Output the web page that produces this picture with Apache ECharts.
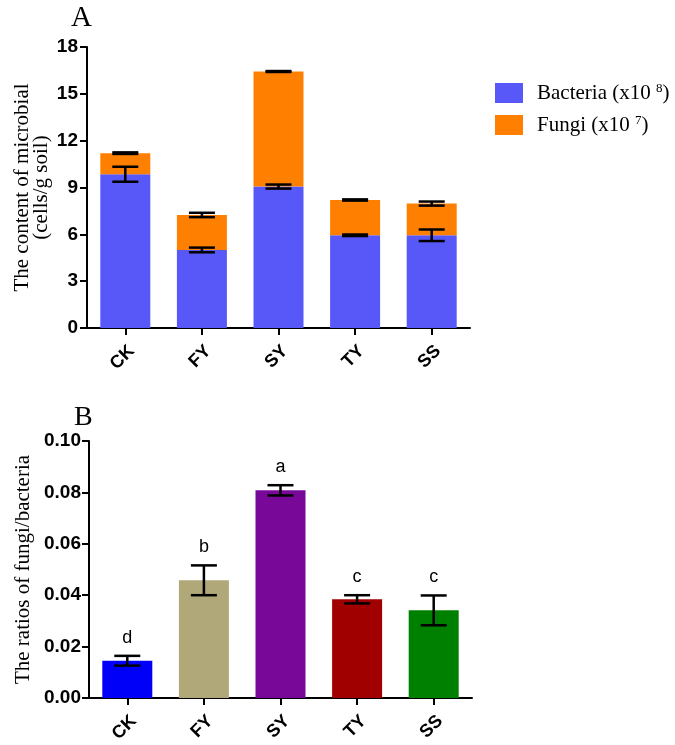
<!DOCTYPE html>
<html>
<head>
<meta charset="utf-8">
<script src="https://cdn.jsdelivr.net/npm/echarts@6/dist/echarts.min.js"></script>
<style>html,body{margin:0;padding:0;background:#fff}#c{width:675px;height:745px}</style>
</head>
<body>
<div id="c"></div>
<script>
// ---- data ----
const categories = ['CK', 'FY', 'SY', 'TY', 'SS'];
const bacteria = [9.85, 5.0, 9.06, 5.94, 5.94];        // x10^8
const bacteriaSE = [0.48, 0.15, 0.13, 0.05, 0.37];
const fungi = [1.35, 2.24, 7.37, 2.26, 2.03];          // x10^7 (stacked)
const fungiSE = [0.05, 0.14, 0.03, 0.04, 0.13];
const ratio = [0.0145, 0.0458, 0.0808, 0.0384, 0.0341];
const ratioSE = [0.0019, 0.0058, 0.0020, 0.0016, 0.0058];
const letters = ['d', 'b', 'a', 'c', 'c'];
const topTicks = [0, 3, 6, 9, 12, 15, 18];
const bottomTicks = ['0.00', '0.02', '0.04', '0.06', '0.08', '0.10'];

// ---- styles ----
const SERIF = 'Liberation Serif, Times New Roman, serif';
const SANS = 'Liberation Sans, Arial, sans-serif';
const ratioColors = ['#0000F8', '#B0A878', '#780898', '#A00000', '#008000'];
const CAP = 13;

const chart = echarts.init(document.getElementById('c'), null, {renderer: 'canvas'});

function errRender(params, api) {
  const i = api.value(0), c = api.value(1), se = api.value(2);
  const top = api.coord([i, c + se]);
  const bot = api.coord([i, c - se]);
  const st = {stroke: '#000', lineWidth: 2.5};
  return {
    type: 'group',
    children: [
      {type: 'line', shape: {x1: top[0], y1: top[1], x2: bot[0], y2: bot[1]}, style: st},
      {type: 'line', shape: {x1: top[0] - CAP, y1: top[1], x2: top[0] + CAP, y2: top[1]}, style: st},
      {type: 'line', shape: {x1: bot[0] - CAP, y1: bot[1], x2: bot[0] + CAP, y2: bot[1]}, style: st}
    ]
  };
}

function letterRender(params, api) {
  const i = api.value(0), c = api.value(1), se = api.value(2);
  const p = api.coord([i, c + se]);
  return {
    type: 'text',
    x: p[0], y: p[1] - 18,
    style: {text: letters[params.dataIndex], fill: '#000', font: '18px ' + SANS, align: 'center', verticalAlign: 'middle'}
  };
}

const axisLineStyle = {show: true, lineStyle: {color: '#000', width: 2}};
const tickStyle = {show: true, length: 7, lineStyle: {color: '#000', width: 2}};

const option = {
  animation: false,
  backgroundColor: '#fff',
  title: [
    {text: 'A', left: 71, top: 4, padding: 0, textStyle: {fontFamily: SERIF, fontSize: 29, fontWeight: 'normal', color: '#000'}},
    {text: 'B', left: 74, top: 404, padding: 0, textStyle: {fontFamily: SERIF, fontSize: 28, fontWeight: 'normal', color: '#000'}}
  ],
  legend: {
    data: ['Bacteria', 'Fungi'],
    orient: 'vertical',
    left: 495, top: 82,
    padding: 0,
    itemWidth: 28, itemHeight: 20, itemGap: 10,
    icon: 'rect',
    formatter: function (name) {
      return name === 'Bacteria' ? '{g|}{t|Bacteria (x10 }{s|8}{t|)}' : '{g|}{t|Fungi (x10 }{s|7}{t|)}';
    },
    textStyle: {
      rich: {
        g: {width: 9},
        t: {fontFamily: SERIF, fontSize: 21, color: '#000', lineHeight: 22, verticalAlign: 'bottom'},
        s: {fontFamily: SERIF, fontSize: 13, color: '#000', lineHeight: 22, verticalAlign: 'top'}
      }
    }
  },
  grid: [
    {left: 87, top: 47, width: 383, height: 281, outerBoundsMode: 'none'},
    {left: 89, top: 441, width: 383, height: 257, outerBoundsMode: 'none'}
  ],
  xAxis: [0, 1].map(g => ({
    type: 'category', gridIndex: g, data: categories,
    axisLine: axisLineStyle,
    axisTick: Object.assign({alignWithLabel: true}, tickStyle),
    axisLabel: {rotate: 45, margin: 14, verticalAlign: 'top', fontFamily: SANS, fontWeight: 'bold', fontSize: 18, color: '#000'},
    splitLine: {show: false}
  })),
  yAxis: [
    {
      type: 'value', gridIndex: 0, min: topTicks[0], max: topTicks[topTicks.length - 1], interval: topTicks[1] - topTicks[0],
      axisLine: axisLineStyle, axisTick: tickStyle, splitLine: {show: false},
      axisLabel: {margin: 9, fontFamily: SANS, fontWeight: 'bold', fontSize: 19, color: '#000'},
      name: 'The content of microbial\n(cells/g soil)', nameLocation: 'middle', nameRotate: 90, nameGap: 36,
      nameMoveOverlap: false,
      nameTextStyle: {fontFamily: SERIF, fontSize: 21, lineHeight: 19, color: '#000'}
    },
    {
      type: 'value', gridIndex: 1, min: 0, max: 0.1, interval: 0.02,
      axisLine: axisLineStyle, axisTick: tickStyle, splitLine: {show: false},
      axisLabel: {margin: 8, fontFamily: SANS, fontWeight: 'bold', fontSize: 19, color: '#000',
        formatter: (v) => bottomTicks[Math.round(v / 0.02)]},
      name: 'The ratios of fungi/bacteria', nameLocation: 'middle', nameRotate: 90, nameGap: 55,
      nameMoveOverlap: false,
      nameTextStyle: {fontFamily: SERIF, fontSize: 21, color: '#000'}
    }
  ],
  series: [
    {name: 'Bacteria', type: 'bar', stack: 'a', xAxisIndex: 0, yAxisIndex: 0, barWidth: 50,
      itemStyle: {color: '#5858F8'}, data: bacteria},
    {name: 'Fungi', type: 'bar', stack: 'a', xAxisIndex: 0, yAxisIndex: 0, barWidth: 50,
      itemStyle: {color: '#FF8000'}, data: fungi},
    {type: 'custom', xAxisIndex: 0, yAxisIndex: 0, z: 5, renderItem: errRender, encode: {x: 0, y: 1},
      data: categories.map((c, i) => [i, bacteria[i], bacteriaSE[i]])},
    {type: 'custom', xAxisIndex: 0, yAxisIndex: 0, z: 5, renderItem: errRender, encode: {x: 0, y: 1},
      data: categories.map((c, i) => [i, bacteria[i] + fungi[i], fungiSE[i]])},
    {name: 'Ratio', type: 'bar', xAxisIndex: 1, yAxisIndex: 1, barWidth: 50,
      data: ratio.map((v, i) => ({value: v, itemStyle: {color: ratioColors[i]}}))},
    {type: 'custom', xAxisIndex: 1, yAxisIndex: 1, z: 5, renderItem: errRender, encode: {x: 0, y: 1},
      data: categories.map((c, i) => [i, ratio[i], ratioSE[i]])},
    {type: 'custom', xAxisIndex: 1, yAxisIndex: 1, z: 5, renderItem: letterRender, encode: {x: 0, y: 1},
      data: categories.map((c, i) => [i, ratio[i], ratioSE[i]])}
  ]
};
chart.setOption(option);
</script>
</body>
</html>
